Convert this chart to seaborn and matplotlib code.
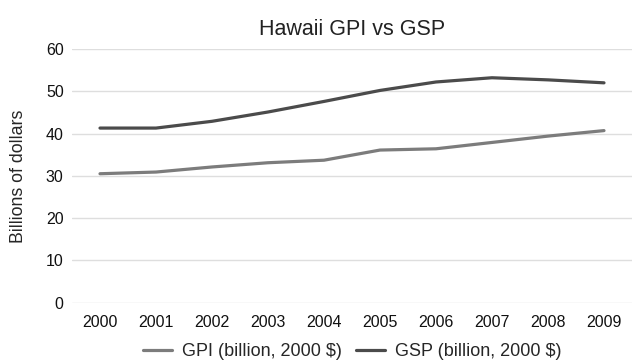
import matplotlib
matplotlib.use("Agg")
import matplotlib.pyplot as plt
import pandas as pd
import seaborn as sns

years = [2000, 2001, 2002, 2003, 2004, 2005, 2006, 2007, 2008, 2009]
gpi = [30.5, 30.9, 32.1, 33.1, 33.7, 36.1, 36.4, 37.9, 39.4, 40.7]
gsp = [41.3, 41.3, 42.9, 45.1, 47.6, 50.2, 52.2, 53.2, 52.7, 52.0]
series_names = ["GPI (billion, 2000 $)", "GSP (billion, 2000 $)"]
series_colors = ["#7c7c7c", "#4b4b4b"]

df = pd.DataFrame({
    "year": years * 2,
    "value": gpi + gsp,
    "series": [series_names[0]] * len(years) + [series_names[1]] * len(years),
})

sns.set_theme(style="white")
plt.rcParams["font.family"] = ["Liberation Sans", "DejaVu Sans"]

fig = plt.figure(figsize=(6.34, 3.64), dpi=100)
ax = fig.add_axes([72 / 634, 1 - 302.7 / 364, 560 / 634, 253.7 / 364])

sns.lineplot(data=df, x="year", y="value", hue="series", palette=series_colors,
             linewidth=2.3, ax=ax)

ax.set_xlim(1999.5, 2009.5)
ax.set_ylim(0, 60)
ax.set_yticks(range(0, 61, 10))
ax.set_xticks(years)
ax.set_xticklabels([str(y) for y in years])
ax.grid(axis="y", color="#dedede", linewidth=1)
ax.set_axisbelow(True)
for s in ax.spines.values():
    s.set_visible(False)
ax.tick_params(axis="y", length=0, labelsize=11.5, colors="#111111", pad=6)
ax.tick_params(axis="x", length=0, labelsize=11.5, colors="#111111", pad=9)
ax.set_xlabel("")
ax.set_ylabel("Billions of dollars", fontsize=12.8)
ax.yaxis.set_label_coords(-0.08, 0.5)
ax.set_title("Hawaii GPI vs GSP", fontsize=15.5, pad=10, color="#222222")

handles, labels = ax.get_legend_handles_labels()
ax.legend_.remove()
fig.legend(handles, labels, loc="center", bbox_to_anchor=(352 / 634, 0.033), ncol=2,
           frameon=False, fontsize=13, handlelength=1.6, handletextpad=0.55,
           columnspacing=0.8)

fig.savefig("out.png", dpi=100)
